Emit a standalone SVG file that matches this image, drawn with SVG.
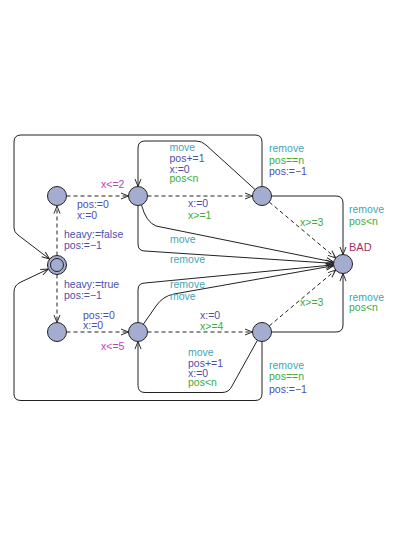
<svg xmlns="http://www.w3.org/2000/svg" width="415" height="537" viewBox="0 0 415 537">
<style>
text{font-family:"Liberation Sans",Arial,sans-serif;font-size:10.5px}
.t{fill:#3fa6b4}.b{fill:#4b4fb0}.g{fill:#3cac3c}.m{fill:#c03cc0}.bad{fill:#a0306a;font-size:11px}
.e{fill:none;stroke:#222;stroke-width:1;marker-end:url(#ah)}
.d{stroke-dasharray:4,3}
.n{fill:#a4acd0;stroke:#222;stroke-width:1}
</style>
<defs>
<marker id="ah" viewBox="0 0 10 10" refX="10" refY="5" markerWidth="8" markerHeight="8" markerUnits="userSpaceOnUse" orient="auto">
<path d="M0.5,1.2 L10,5 L0.5,8.8" fill="none" stroke="#222" stroke-width="1.2"/>
</marker>
</defs>
<rect width="415" height="537" fill="#fff"/>
<g id="connectors">
<path class="e d" d="M57,255.5 V206"/>
<path class="e d" d="M57,274.5 V322.5"/>
<path class="e d" d="M66.5,196 H128.5"/>
<path class="e d" d="M147.5,196 H252.5"/>
<path class="e" d="M255,189.5 L206,145 Q202,141 196,141 H145 Q138,141 138,148 V186.5"/>
<path class="e" d="M262,186.5 V142 Q262,135 255,135 H21 Q14,135 14,142 V228 Q14,232 18,235 L49.5,259"/>
<path class="e" d="M271.5,196 H336 Q343,196 343,203 V254.5"/>
<path class="e d" d="M269.3,202.1 L335.7,257.9"/>
<path class="e" d="M141.5,205 Q146,222 156,226 L333.7,262.1"/>
<path class="e" d="M138,205.5 V244 Q138,251 145,251 L333.5,263.4"/>
<path class="e" d="M138,322.5 V290 Q138,283 145,283 L333.5,264.9"/>
<path class="e" d="M143.4,324.2 L156,306 Q163,296 174,294 L333.6,265.7"/>
<path class="e d" d="M66.5,332 H128.5"/>
<path class="e d" d="M147.5,332 H252.5"/>
<path class="e d" d="M269.3,325.9 L335.7,270.1"/>
<path class="e" d="M271.5,332 H336 Q343,332 343,325 V273.5"/>
<path class="e" d="M257.4,340.3 L232,386 Q229,392.5 222,392.5 H145 Q138,392.5 138,385.5 V341.5"/>
<path class="e" d="M262,341.5 V394 Q262,400.5 255,400.5 H21 Q14,400.5 14,394 V292 Q14,285 21,282 L48.4,269"/>
</g>
<g id="labels">
<text x="64" y="238" class="b">heavy:=false</text>
<text x="64" y="249" class="b">pos:=−1</text>
<text x="64" y="288" class="b">heavy:=true</text>
<text x="64" y="299" class="b">pos:=−1</text>
<text x="101" y="188" class="m">x&lt;=2</text>
<text x="77" y="208" class="b">pos:=0</text>
<text x="77" y="219" class="b">x:=0</text>
<text x="169.5" y="150.5" class="t">move</text>
<text x="169.5" y="162" class="b">pos+=1</text>
<text x="169.5" y="173" class="b">x:=0</text>
<text x="169.5" y="182" class="g">pos&lt;n</text>
<text x="188" y="207" class="b">x:=0</text>
<text x="188" y="219" class="g">x&gt;=1</text>
<text x="269" y="152" class="t">remove</text>
<text x="269" y="163.5" class="g">pos==n</text>
<text x="269" y="175" class="b">pos:=−1</text>
<text x="349" y="213" class="t">remove</text>
<text x="349" y="224.5" class="g">pos&lt;n</text>
<text x="300" y="225.5" class="g">x&gt;=3</text>
<text x="170" y="243" class="t">move</text>
<text x="170" y="263" class="t">remove</text>
<text x="170" y="287.5" class="t">remove</text>
<text x="170" y="299.5" class="t">move</text>
<text x="300" y="305.5" class="g">x&gt;=3</text>
<text x="349" y="300.5" class="t">remove</text>
<text x="349" y="311" class="g">pos&lt;n</text>
<text x="83" y="318.5" class="b">pos:=0</text>
<text x="83" y="329" class="b">x:=0</text>
<text x="101" y="349.5" class="m">x&lt;=5</text>
<text x="200" y="318.5" class="b">x:=0</text>
<text x="200" y="330" class="g">x&gt;=4</text>
<text x="188" y="355.5" class="t">move</text>
<text x="188" y="366.5" class="b">pos+=1</text>
<text x="188" y="377" class="b">x:=0</text>
<text x="188" y="386" class="g">pos&lt;n</text>
<text x="269" y="368.5" class="t">remove</text>
<text x="269" y="380" class="g">pos==n</text>
<text x="269" y="392.5" class="b">pos:=−1</text>
</g>
<g id="init"><circle class="n" cx="57" cy="265" r="9.5"/><circle class="n" cx="57" cy="265" r="6.5"/></g>
<g id="A"><circle class="n" cx="57" cy="196" r="9.5"/></g>
<g id="B"><circle class="n" cx="138" cy="196" r="9.5"/></g>
<g id="C"><circle class="n" cx="262" cy="196" r="9.5"/></g>
<g id="D"><circle class="n" cx="57" cy="332" r="9.5"/></g>
<g id="E"><circle class="n" cx="138" cy="332" r="9.5"/></g>
<g id="F"><circle class="n" cx="262" cy="332" r="9.5"/></g>
<g id="BAD"><circle class="n" cx="343" cy="264" r="9.5"/><text x="349" y="251" class="bad">BAD</text></g>
</svg>
